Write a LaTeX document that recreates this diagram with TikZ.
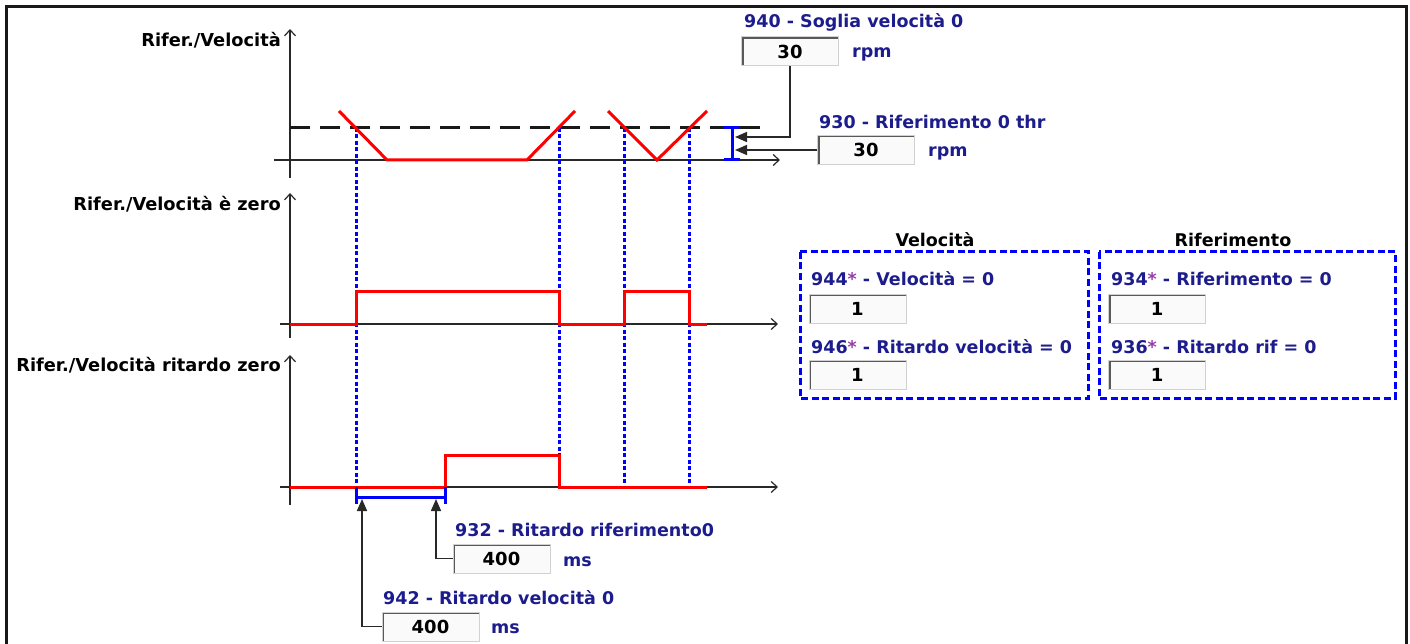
\documentclass[tikz,border=0pt]{standalone}
\usepackage{fontspec}
\setmainfont{DejaVu Sans}
\usetikzlibrary{arrows.meta}
\definecolor{parblue}{RGB}{28, 28, 140}
\definecolor{starpink}{RGB}{150, 60, 170}
\definecolor{sigred}{RGB}{255, 0, 0}
\definecolor{markblue}{RGB}{0, 0, 255}
\definecolor{axisgray}{RGB}{40, 40, 40}
\begin{document}
\begin{tikzpicture}[
    x=1pt, y=-1pt,
    every node/.style={inner sep=0pt, font=\fontsize{17.5}{20}\selectfont\bfseries},
    axislabel/.style={anchor=east, text=black, font=\fontsize{17.8}{20}\selectfont\bfseries},
    parlabel/.style={anchor=west, text=parblue},
    unit/.style={anchor=west, text=parblue},
    paneltitle/.style={text=black},
    field/.style={draw=black!18, line width=1pt, fill=black!2, minimum width=97pt, minimum height=29pt,
        font=\fontsize{18}{20}\selectfont\bfseries,
        path picture={\draw[black!65, line width=4pt] (path picture bounding box.south west) -- (path picture bounding box.north west) -- (path picture bounding box.north east);}},
    axis/.style={draw=axisgray, line width=1.2pt, -{Straight Barb[length=6pt,width=11pt]}},
    signal/.style={draw=sigred, line width=3pt},
    trigger/.style={draw=markblue, line width=3pt, dash pattern=on 4pt off 2.5pt},
    span/.style={draw=markblue, line width=3pt},
    panel/.style={draw=markblue, line width=3pt, dash pattern=on 7pt off 3.5pt},
    ptr/.style={draw=axisgray, line width=1.6pt, -{Triangle[length=12pt,width=10pt]}}
]
\useasboundingbox (0,0) rectangle (1410,644);
\draw[line width=3pt, black!90] (6,7) rectangle (1406,660);

% axes
\node[axislabel] (lref) at (281,40) {Rifer./Velocità};
\node[axislabel] (lzero) at (281,204) {Rifer./Velocità è zero};
\node[axislabel] (ldelay) at (281,365) {Rifer./Velocità ritardo zero};
\draw[axis] (290,178) -- (290,29);
\draw[axis] (274,160) -- (780,160);
\draw[axis] (290,338) -- (290,193);
\draw[axis] (280,324) -- (778,324);
\draw[axis] (290,505) -- (290,355);
\draw[axis] (280,487) -- (778,487);
\draw[black!90, line width=3pt, dash pattern=on 20pt off 10pt] (290,128) -- (763,128);

% threshold crossings
\foreach \x in {356,559,624,689}
    \draw[trigger] (\x,128) -- (\x,487);

% signals
\draw[signal] (339,111) -- (387,160) -- (527,160) -- (575,111);
\draw[signal] (608,111) -- (657,160) -- (707,111);
\draw[signal] (290,324) -- (356,324) -- (356,291) -- (559,291) -- (559,324) -- (624,324) -- (624,291) -- (689,291) -- (689,324) -- (707,324);
\draw[signal] (290,487) -- (445,487) -- (445,455) -- (559,455) -- (559,487) -- (707,487);

% spans
\draw[span] (724,128) -- (740,128) (732,128) -- (732,160) (724,160) -- (740,160);
\draw[span] (356,487) -- (356,504) (356,497) -- (445,497) (445,487) -- (445,504);
\coordinate (t940) at (735,137);
\coordinate (t930) at (735,150);
\coordinate (t942) at (362,499);
\coordinate (t932) at (436,499);

% thresholds
\node[parlabel] (l940) at (744,22) {940 - Soglia velocità 0};
\node[field] (f940) at (790,51.5) {30};
\node[unit] (u940) at (852,54) {rpm};
\node[parlabel] (l930) at (819,122) {930 - Riferimento 0 thr};
\node[field] (f930) at (866,150) {30};
\node[unit] (u930) at (928,153) {rpm};
\draw[ptr] (f940.south) |- (t940);
\draw[ptr] (f930.west) -- (t930);

% delays
\node[parlabel] (l932) at (455,530) {932 - Ritardo riferimento0};
\node[field] (f932) at (501.5,558.5) {400};
\node[unit] (u932) at (563,562) {ms};
\node[parlabel] (l942) at (383,598) {942 - Ritardo velocità 0};
\node[field] (f942) at (430.5,626.5) {400};
\node[unit] (u942) at (491,629) {ms};
\draw[ptr] (f942.west) -| (t942);
\draw[ptr] (f932.west) -| (t932);

% panels
\node[paneltitle] (tvel) at (935,240) {Velocità};
\node[paneltitle] (trif) at (1233,240) {Riferimento};
\draw[panel] (800,252) rectangle (1088,398);
\draw[panel] (1099,252) rectangle (1395,398);
\node[parlabel] (l944) at (811,279) {944{\color{starpink}*} - Velocità = 0};
\node[field] (f944) at (857.5,308.5) {1};
\node[parlabel] (l946) at (811,347) {946{\color{starpink}*} - Ritardo velocità = 0};
\node[field] (f946) at (857.5,374.5) {1};
\node[parlabel] (l934) at (1111,279) {934{\color{starpink}*} - Riferimento = 0};
\node[field] (f934) at (1157,308.5) {1};
\node[parlabel] (l936) at (1111,347) {936{\color{starpink}*} - Ritardo rif = 0};
\node[field] (f936) at (1157,374.5) {1};
\end{tikzpicture}
\end{document}
